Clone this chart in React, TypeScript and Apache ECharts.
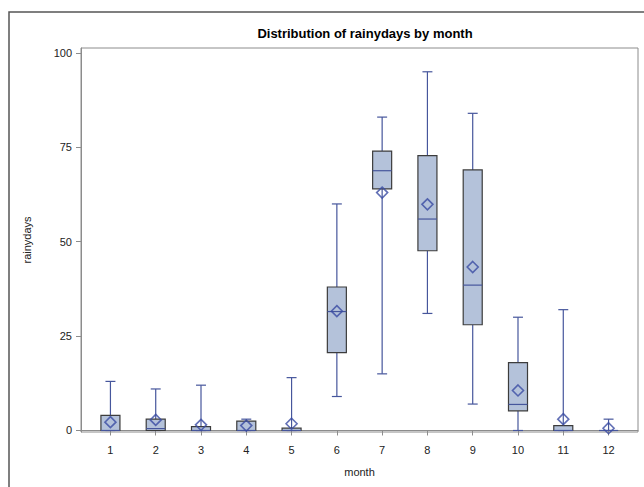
import React, { useEffect, useRef } from "react";
import * as echarts from "echarts";

const months = [1, 2, 3, 4, 5, 6, 7, 8, 9, 10, 11, 12];
const mins = [0, 0, 0, 0, 0, 9, 15, 31, 7, 0, 0, 0];
const q1s = [0, 0, 0, 0, 0, 20.6, 64, 47.6, 28, 5.2, 0, 0];
const medians = [0, 0.5, 0, 0, 0, 31.5, 68.8, 56, 38.5, 6.9, 0, 0];
const q3s = [4, 3, 1, 2.5, 0.6, 38, 74, 72.8, 69, 18, 1.3, 0];
const maxs = [13, 11, 12, 3, 14, 60, 83, 95, 84, 30, 32, 3];
const means = [2.2, 2.8, 1.5, 1.3, 1.8, 31.6, 63, 59.9, 43.3, 10.6, 3, 0.6];
const yTicks = [0, 25, 50, 75, 100];

const FONT = "'Liberation Sans', Arial, sans-serif";
const WHISKER = "#46569c";
const BOXFILL = "#b4c2da";
const BOXEDGE = "#3c3c3c";

export default function App() {
  const ref = useRef<HTMLDivElement>(null);
  useEffect(() => {
    if (!ref.current) return;
    const chart = echarts.init(ref.current, null, { renderer: "svg" });
    const boxData = months.map((m, i) => [m, mins[i], q1s[i], medians[i], q3s[i], maxs[i]]);
    const meanData = months.map((m, i) => [m, means[i]]);
    chart.setOption({
      animation: false,
      backgroundColor: "#fff",
      title: {
        text: "Distribution of rainydays by month",
        left: 360,
        top: 22,
        textAlign: "center",
        textStyle: { fontFamily: FONT, fontSize: 13, fontWeight: "bold", color: "#000" },
      },
      graphic: [
        {
          type: "rect",
          shape: { x: 9, y: 12, width: 700, height: 600 },
          style: { fill: "none", stroke: "#555", lineWidth: 1.5 },
          silent: true,
        },
      ],
      grid: { left: 81, top: 48, right: 6, bottom: 55, show: true, borderColor: "#8c8c8c", borderWidth: 1 },
      xAxis: {
        type: "value",
        min: 0.35,
        max: 12.65,
        name: "month",
        nameLocation: "middle",
        nameGap: 34,
        nameTextStyle: { fontFamily: FONT, fontSize: 11, color: "#222" },
        axisLine: { show: true, lineStyle: { color: "#8c8c8c" } },
        axisTick: { show: true, length: 5, lineStyle: { color: "#8c8c8c" }, customValues: months },
        axisLabel: { fontFamily: FONT, fontSize: 11, color: "#222", margin: 12, customValues: months },
        splitLine: { show: false },
      },
      yAxis: {
        type: "value",
        min: -0.4,
        max: 101.3,
        name: "rainydays",
        nameLocation: "middle",
        nameGap: 49,
        nameRotate: 90,
        nameTextStyle: { fontFamily: FONT, fontSize: 11, color: "#222" },
        axisLine: { show: true, lineStyle: { color: "#8c8c8c" } },
        axisTick: { show: true, length: 5, lineStyle: { color: "#8c8c8c" }, customValues: yTicks },
        axisLabel: { fontFamily: FONT, fontSize: 11, color: "#222", margin: 9, customValues: yTicks },
        splitLine: { show: false },
      },
      series: [
        {
          type: "custom",
          data: boxData,
          encode: { x: 0, y: [1, 2, 3, 4, 5] },
          renderItem: (params: any, api: any) => {
            const x = api.value(0);
            const vMin = api.value(1);
            const vQ1 = api.value(2);
            const vMed = api.value(3);
            const vQ3 = api.value(4);
            const vMax = api.value(5);
            const unit = api.size([1, 0])[0];
            const bw = unit * 0.42;
            const cw = unit * 0.22;
            const pMin = api.coord([x, vMin]);
            const pQ1 = api.coord([x, vQ1]);
            const pMed = api.coord([x, vMed]);
            const pQ3 = api.coord([x, vQ3]);
            const pMax = api.coord([x, vMax]);
            const cx = pMin[0];
            const ls = { stroke: WHISKER, lineWidth: 1.2 };
            return {
              type: "group",
              children: [
                { type: "line", shape: { x1: cx, y1: pMax[1], x2: cx, y2: pQ3[1] }, style: ls },
                { type: "line", shape: { x1: cx, y1: pQ1[1], x2: cx, y2: pMin[1] }, style: ls },
                { type: "line", shape: { x1: cx - cw / 2, y1: pMax[1], x2: cx + cw / 2, y2: pMax[1] }, style: ls },
                { type: "line", shape: { x1: cx - cw / 2, y1: pMin[1], x2: cx + cw / 2, y2: pMin[1] }, style: ls },
                {
                  type: "rect",
                  shape: { x: cx - bw / 2, y: pQ3[1], width: bw, height: pQ1[1] - pQ3[1] },
                  style: { fill: BOXFILL, stroke: BOXEDGE, lineWidth: 1.2 },
                },
                { type: "line", shape: { x1: cx - bw / 2, y1: pMed[1], x2: cx + bw / 2, y2: pMed[1] }, style: ls },
              ],
            };
          },
          z: 2,
        },
        {
          type: "scatter",
          data: meanData,
          symbol: "diamond",
          symbolSize: [11, 11],
          itemStyle: { color: "rgba(0,0,0,0)", borderColor: "#3a4ba3", borderWidth: 1.6 },
          z: 3,
        },
      ],
    });
    return () => chart.dispose();
  }, []);
  return (
    <div
      ref={ref}
      style={{ position: "fixed", left: 0, top: 0, width: 644, height: 487, background: "#fff" }}
    />
  );
}
